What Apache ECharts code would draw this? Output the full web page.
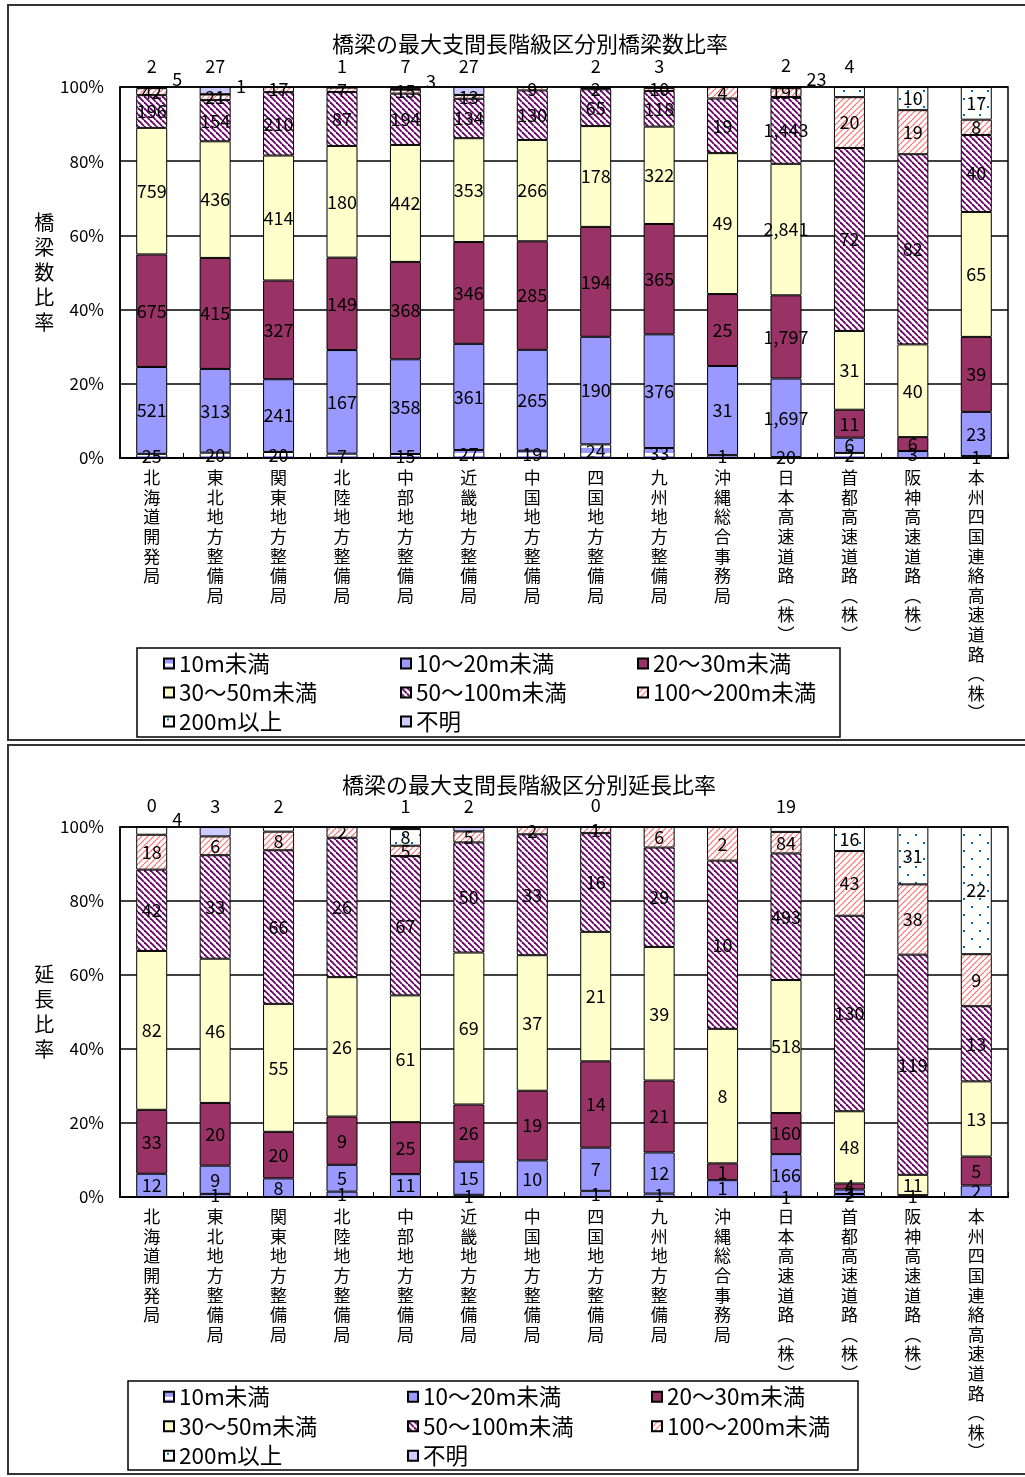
<!DOCTYPE html>
<html><head><meta charset="utf-8">
<script src="https://cdn.jsdelivr.net/npm/echarts@6/dist/echarts.min.js"></script>
<style>html,body{margin:0;padding:0;background:#fff}#c{width:1025px;height:1477px}</style>
</head><body><div id="c"></div>
<script>
// ---------- DATA ----------
const categories = ['北海道開発局','東北地方整備局','関東地方整備局','北陸地方整備局','中部地方整備局','近畿地方整備局','中国地方整備局','四国地方整備局','九州地方整備局','沖縄総合事務局','日本高速道路（株）','首都高速道路（株）','阪神高速道路（株）','本州四国連絡高速道路（株）'];
const seriesNames = ['10m未満','10〜20m未満','20〜30m未満','30〜50m未満','50〜100m未満','100〜200m未満','200m以上','不明'];
const yTickValues = [0,20,40,60,80,100];

// chart 1: number of bridges
const count_lt10   = [25,20,20,7,15,27,19,24,33,1,20,2,null,1];
const count_10_20  = [521,313,241,167,358,361,265,190,376,31,1697,6,3,23];
const count_20_30  = [675,415,327,149,368,346,285,194,365,25,1797,11,6,39];
const count_30_50  = [759,436,414,180,442,353,266,178,322,49,2841,31,40,65];
const count_50_100 = [196,154,210,87,194,134,130,65,118,19,1443,72,82,40];
const count_100_200= [42,21,17,7,15,13,9,2,10,4,191,20,19,8];
const count_200up  = [5,1,null,1,3,null,null,null,null,null,23,4,10,17];
const count_unknown= [2,27,null,null,7,27,null,2,3,null,2,null,null,null];

// chart 2: length
const len_lt10   = [null,1,null,1,null,1,null,1,1,null,1,2,null,null];
const len_10_20  = [12,9,8,5,11,15,10,7,12,1,166,3,null,2];
const len_20_30  = [33,20,20,9,25,26,19,14,21,1,160,4,1,5];
const len_30_50  = [82,46,55,26,61,69,37,21,39,8,518,48,11,13];
const len_50_100 = [42,33,66,26,67,50,33,16,29,10,493,130,119,13];
const len_100_200= [18,6,8,2,5,5,2,1,6,2,84,43,38,9];
const len_200up  = [4,null,2,null,8,null,null,null,null,null,19,16,31,22];
const len_unknown= [0,3,null,null,1,2,null,0,null,null,null,null,null,null];

const title1 = '橋梁の最大支間長階級区分別橋梁数比率';
const title2 = '橋梁の最大支間長階級区分別延長比率';
const yName1 = '橋梁数比率';
const yName2 = '延長比率';

// ---------- STYLE ----------
const FONT = '"Noto Sans CJK JP", "Noto Sans", sans-serif';
function tile(w,h,draw){const c=document.createElement('canvas');c.width=w;c.height=h;const g=c.getContext('2d');draw(g);return {image:c,repeat:'repeat'};}
const fills = [
  tile(4,8,g=>{g.fillStyle='#9999FF';g.fillRect(0,0,4,8);g.fillStyle='#FFFFFF';g.fillRect(0,5,4,3);}),
  '#9999FF',
  '#993366',
  '#FFFFCC',
  tile(6,6,g=>{g.fillStyle='#fff';g.fillRect(0,0,6,6);g.strokeStyle='#660066';g.lineWidth=1.8;for(const o of [-6,0,6]){g.beginPath();g.moveTo(o,0);g.lineTo(o+6,6);g.stroke();}}),
  tile(6,6,g=>{g.fillStyle='#fff';g.fillRect(0,0,6,6);g.strokeStyle='#FF7070';g.lineWidth=1.2;for(const o of [-6,0,6]){g.beginPath();g.moveTo(o,6);g.lineTo(o+6,0);g.stroke();}}),
  tile(16,16,g=>{g.fillStyle='#fff';g.fillRect(0,0,16,16);g.fillStyle='#0066CC';g.fillRect(3,2,2,2);g.fillRect(11,10,2,2);}),
  '#CCCCFF'
];

function vert(s){return Array.from(s).map(c=>c==='（'?'︵':c==='）'?'︶':c).join('\n');}

function labelOverride(si, pct, unkNull){
  if(si===7) return {position:'top', distance:12};
  if(si===6 && pct<3){
    if(unkNull) return {position:'top', distance:12};
    return {position:['100%',0], align:'left', verticalAlign:'middle', offset:[5,-8]};
  }
  return undefined;
}

function buildSeries(arrays, gi, stackName){
  const totals = categories.map((_,i)=>arrays.reduce((s,a)=>s+(a[i]||0),0));
  return arrays.map((arr,si)=>({
    name: seriesNames[si], type:'bar', stack:stackName, xAxisIndex:gi, yAxisIndex:gi,
    barWidth:31,
    itemStyle:{color:fills[si], borderColor:'#000', borderWidth:1},
    label:{show:true, position:'inside', color:'#000', fontSize:18, fontFamily:FONT, textBorderWidth:0,
      formatter:p=>p.data.raw.toLocaleString('en-US')},
    emphasis:{disabled:true},
    data: arr.map((v,i)=>{
      if(v==null) return null;
      const pct = v/totals[i]*100;
      const o = {value:pct, raw:v};
      const lo = labelOverride(si,pct,arrays[7][i]==null);
      if(lo) o.label = lo;
      return o;
    })
  }));
}

const chartArrays1 = [count_lt10,count_10_20,count_20_30,count_30_50,count_50_100,count_100_200,count_200up,count_unknown];
const chartArrays2 = [len_lt10,len_10_20,len_20_30,len_30_50,len_50_100,len_100_200,len_200up,len_unknown];

function xAxisCfg(gi){
  return {type:'category', gridIndex:gi, data:categories,
    axisLine:{lineStyle:{color:'#000',width:2}},
    axisTick:{show:true, inside:true, length:5, lineStyle:{color:'#000'}},
    axisLabel:{interval:0, formatter:vert, fontSize:17, lineHeight:19.6, margin:10, color:'#000', fontFamily:FONT}};
}
function yAxisCfg(gi, name){
  return {type:'value', gridIndex:gi, min:yTickValues[0], max:yTickValues[yTickValues.length-1], interval:yTickValues[1]-yTickValues[0],
    name: Array.from(name).join('\n'), nameLocation:'middle', nameRotate:0, nameGap:75,
    nameTextStyle:{fontSize:20, lineHeight:25, color:'#000', fontFamily:FONT, align:'center', verticalAlign:'middle'},
    axisLine:{show:true, lineStyle:{color:'#000',width:1.5}},
    axisTick:{show:false},
    splitLine:{show:true, lineStyle:{color:'#000',width:1.5}},
    axisLabel:{formatter:'{value}%', fontSize:17, color:'#000', margin:16, fontFamily:FONT}};
}
function legendCfg(top, left, colW, lh){
  return {data:seriesNames, left:left, top:top, width:colW*3+10, orient:'horizontal', padding:0,
    itemWidth:10, itemHeight:10, itemGap:0, icon:'rect', selectedMode:false,
    textStyle:{fontSize:22.5, width:colW-15, lineHeight:lh, color:'#000', fontFamily:FONT}};
}

const chart = echarts.init(document.getElementById('c'), null, {renderer:'canvas'});
chart.setOption({
  animation:false,
  backgroundColor:'#fff',
  title:[
    {text:title1, left:332, top:33, padding:0, textStyle:{fontSize:22, fontWeight:'normal', color:'#000', fontFamily:FONT}},
    {text:title2, left:342, top:774, padding:0, textStyle:{fontSize:22, fontWeight:'normal', color:'#000', fontFamily:FONT}}
  ],
  grid:[
    {left:120, right:17, top:87, bottom:1477-458, show:true, borderColor:'#000', borderWidth:1.5},
    {left:120, right:17, top:827, bottom:1477-1197, show:true, borderColor:'#000', borderWidth:1.5}
  ],
  xAxis:[xAxisCfg(0), xAxisCfg(1)],
  yAxis:[yAxisCfg(0,yName1), yAxisCfg(1,yName2)],
  legend:[legendCfg(649,163,236,29), legendCfg(1382,163,243,29.5)],
  graphic:[
    {type:'rect', shape:{x:8,y:5,width:1030,height:735}, style:{fill:null, stroke:'#333', lineWidth:2}, silent:true},
    {type:'rect', shape:{x:8,y:745,width:1030,height:729}, style:{fill:null, stroke:'#333', lineWidth:2}, silent:true},
    {type:'rect', shape:{x:137,y:648,width:703,height:89}, style:{fill:null, stroke:'#000', lineWidth:1.5}, silent:true},
    {type:'rect', shape:{x:128,y:1381,width:730,height:89}, style:{fill:null, stroke:'#000', lineWidth:1.5}, silent:true}
  ],
  series:[...buildSeries(chartArrays1,0,'a'), ...buildSeries(chartArrays2,1,'b')]
});
</script></body></html>
